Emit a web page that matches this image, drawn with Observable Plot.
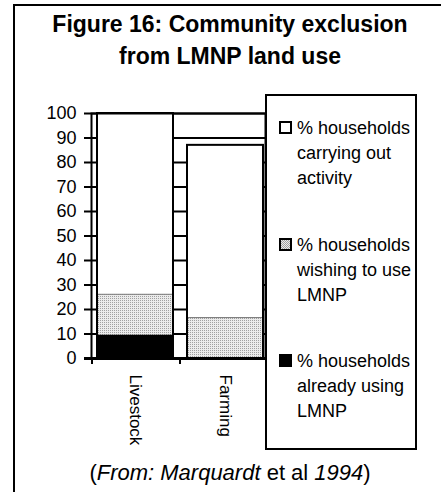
<!DOCTYPE html>
<html><head><meta charset="utf-8">
<script src="https://cdn.jsdelivr.net/npm/d3@7"></script>
<script src="https://cdn.jsdelivr.net/npm/@observablehq/plot@0.6"></script>
<style>
body{margin:0;background:#fff;}
#wrap{position:relative;width:441px;height:492px;overflow:hidden;font-family:"Liberation Sans",Arial,sans-serif;color:#000;background:#fff;}
#border{position:absolute;left:13px;top:4px;width:600px;height:600px;border-left:2px solid #000;border-top:2px solid #000;}
#title{position:absolute;left:14px;width:432px;top:8px;text-align:center;font-weight:bold;font-size:23px;line-height:32px;}
#chart{position:absolute;left:0;top:100px;}
#legend{position:absolute;left:265px;top:94px;width:152px;height:356px;box-sizing:border-box;border:2px solid #000;background:#fff;}
.entry{position:absolute;left:297px;font-size:18px;line-height:25px;white-space:pre-line;}
.sw{position:absolute;left:279px;width:13px;height:13px;box-sizing:border-box;border:2px solid #000;}
#caption{position:absolute;left:14px;width:432px;top:460px;text-align:center;font-size:22px;line-height:26px;}
#chart svg text{font-family:"Liberation Sans",Arial,sans-serif;fill:#000;}
</style>
</head>
<body>
<div id="wrap">
  <div id="border"></div>
  <div id="title">Figure 16: Community exclusion<br>from LMNP land use</div>
  <div id="chart"></div>
  <div id="legend"></div>
  <div id="caption">(<i>From: Marquardt</i> et al <i>1994</i>)</div>
</div>
<script>
const categories = ["Livestock", "Farming"];
const carrying = [100, 87];
const wishing = [26, 16.5];
const using = [9.5, 0];
const yTicks = [0, 10, 20, 30, 40, 50, 60, 70, 80, 90, 100];
const seriesLabels = [
  "% households\ncarrying out\nactivity",
  "% households\nwishing to use\nLMNP",
  "% households\nalready using\nLMNP"
];
const seriesFills = ["#fff", "stipple", "#000"];

const data = categories.map((c, i) => ({cat: c, carrying: carrying[i], wishing: wishing[i], using: using[i]}));

function boundaryTicks(index, scales, values, dimensions) {
  const x = scales.x, y = scales.y;
  const bw = typeof x.bandwidth === "function" ? x.bandwidth() : x.bandwidth;
  const xs = [dimensions.marginLeft + 1];
  for (let i = 0; i < categories.length - 1; i++) {
    xs.push((x(categories[i]) + bw + x(categories[i + 1])) / 2);
  }
  xs.push(dimensions.width - dimensions.marginRight + 2);
  const y0 = y(0);
  const g = d3.create("svg:g");
  g.selectAll("line").data(xs).join("line")
    .attr("x1", d => d).attr("x2", d => d)
    .attr("y1", y0).attr("y2", y0 + 6)
    .attr("stroke", "#000").attr("stroke-width", 2);
  return g.node();
}

const svg = Plot.plot({
  width: 441,
  height: 360,
  marginTop: 13,
  marginBottom: 102,
  marginLeft: 91,
  marginRight: 176,
  style: {fontSize: "18px", background: "transparent", overflow: "visible"},
  x: {domain: categories, paddingInner: 0.1556, paddingOuter: 0.0444, align: 0.75,
      tickSize: 0, tickRotate: 90, tickPadding: 16, label: null},
  y: {domain: [0, 100], ticks: yTicks, tickSize: 0, tickPadding: 15, label: null},
  marks: [
    Plot.ruleY(yTicks, {stroke: "#000", strokeWidth: 2, insetLeft: -7}),
    Plot.barY(data, {x: "cat", y: "carrying", fill: "#fff"}),
    Plot.barY(data, {x: "cat", y: "wishing", fill: "url(#stipple)", stroke: "#777", strokeWidth: 1}),
    Plot.barY(data, {x: "cat", y: "using", fill: "#000"}),
    Plot.barY(data, {x: "cat", y: "carrying", fill: "none", stroke: "#000", strokeWidth: 2}),
    Plot.frame({stroke: "#000", strokeWidth: 2}),
    Plot.ruleY([0], {stroke: "#000", strokeWidth: 3, insetLeft: -7, insetRight: -3}),
    boundaryTicks
  ]
});

const defs = d3.select(svg).insert("defs", ":first-child");
const pat = defs.append("pattern").attr("id", "stipple").attr("patternUnits", "userSpaceOnUse")
  .attr("width", 2).attr("height", 2);
pat.append("rect").attr("width", 2).attr("height", 2).attr("fill", "#ebebeb");
pat.append("rect").attr("width", 1).attr("height", 1).attr("fill", "#a0a0a0");

d3.select(svg).selectAll('[aria-label^="x-axis"] text').style("font-size", "17px");

document.getElementById("chart").appendChild(svg);

const wrap = document.getElementById("wrap");
seriesLabels.forEach((lab, i) => {
  const top = 116 + i * 116.5;
  const sw = document.createElement("div");
  sw.className = "sw";
  sw.style.top = (top + 5) + "px";
  if (seriesFills[i] === "stipple") {
    sw.style.background = "repeating-conic-gradient(#a0a0a0 0 25%, #ebebeb 0 50%) 0 0/2px 2px";
  } else {
    sw.style.background = seriesFills[i];
  }
  wrap.appendChild(sw);
  const t = document.createElement("div");
  t.className = "entry";
  t.style.top = top + "px";
  t.textContent = lab;
  wrap.appendChild(t);
});
</script>
</body></html>
